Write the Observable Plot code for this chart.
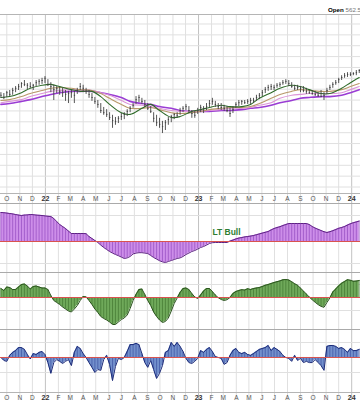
<!DOCTYPE html>
<html><head><meta charset="utf-8">
<script src="https://cdn.jsdelivr.net/npm/d3@7"></script>
<script src="https://cdn.jsdelivr.net/npm/@observablehq/plot@0.6"></script>
<style>
html,body{margin:0;padding:0;background:#fff;}
#chart{position:relative;width:360px;height:400px;overflow:hidden;font-family:"Liberation Sans",Arial,sans-serif;}
#hdr{position:absolute;top:6px;left:328px;font-size:6.2px;white-space:nowrap;line-height:8px;}
</style></head><body>
<div id="chart"><div id="hdr"><b style="color:#000">Open</b> <span style="color:#777">562.5</span></div></div>
<script>
// ---- data (weekly bars, first bar Friday 2021-09-17) ----
const firstBarDate = "2021-09-17";
const high = [442,440,445,447,452,456,461,465,470,463,
465,461,470,472,475,479,472,465,459,456,
454,452,447,445,447,445,452,463,459,452,
447,440,431,424,417,408,403,396,390,385,
387,394,396,403,410,417,433,436,429,424,
417,410,396,390,383,376,378,385,390,394,
396,406,410,415,410,401,399,406,413,410,
417,424,429,422,417,417,413,410,406,410,
419,424,424,424,426,429,429,436,440,447,
454,459,461,459,463,465,470,472,470,465,
459,459,456,456,452,447,447,445,442,447,
442,452,459,465,470,475,481,486,488,488,
488,493,495];
const low = [429,426,431,433,436,442,447,452,456,449,
452,447,456,459,461,463,456,442,424,440,
436,431,422,417,429,417,438,447,442,438,
429,422,415,406,394,390,385,378,360,367,
371,378,380,387,396,406,415,419,415,408,
401,394,373,364,360,348,355,367,373,380,
383,390,396,401,394,383,383,392,396,394,
401,408,413,408,403,401,399,396,385,394,
406,410,413,415,415,415,417,422,426,433,
440,445,447,447,452,454,459,461,456,452,
447,447,442,442,438,438,436,433,431,431,
424,438,447,452,459,463,470,475,477,479,
481,481,486];
const close = [436,431,442,438,447,452,456,463,461,459,
456,459,465,468,470,475,461,456,449,452,
445,442,438,440,442,436,447,456,452,445,
438,431,422,415,401,396,392,385,378,376,
383,387,392,399,406,413,426,431,422,415,
406,399,383,373,369,364,373,380,387,392,
390,401,406,410,401,394,390,401,408,406,
410,417,422,415,410,408,406,401,394,403,
415,419,422,419,422,424,424,431,436,442,
449,454,456,454,459,461,465,468,463,456,
452,454,452,447,445,442,440,438,436,433,
436,447,454,461,465,472,477,481,484,484,
486,488,493];

// moving averages, read at these week indices
const maWeek = [0,3,7,10,14,17,20,24,27,31,34,37,41,44,48,51,54,58,61,65,68,71,75,78,82,85,88,92,95,99,102,105,109,112,116,119,122];
const ma10 = [431,433,442,452,459,461,456,449,445,445,433,415,396,392,406,415,401,385,387,399,403,408,413,410,410,415,429,442,452,459,456,449,440,440,452,465,477];
const ma20 = [424,426,433,440,447,452,454,452,449,447,440,429,415,406,406,408,403,396,394,396,399,403,406,408,408,410,417,429,438,445,449,447,445,445,449,456,463];
const ma30 = [419,422,426,433,440,445,447,449,449,447,442,436,424,415,413,410,406,401,399,399,399,401,403,406,406,408,413,419,429,436,438,440,440,440,442,449,456];
const ma40 = [415,417,422,426,433,438,442,445,445,445,442,438,431,422,417,415,410,406,401,399,399,399,401,401,403,406,408,413,419,424,429,431,433,433,436,442,449];

// long-term trend indicator (purple)
const ltTrend = [7.25,7.2,7.1,7.0,6.9,6.75,6.6,6.5,6.6,6.65,
6.75,6.7,6.6,6.55,6.5,6.4,6.3,6.25,5.75,5.0,
4.25,3.75,3.25,2.6,2.0,2.0,2.0,2.0,2.0,1.95,
1.25,0.75,0.25,-0.25,-0.9,-1.5,-2.0,-2.5,-2.9,-3.25,
-3.55,-3.9,-4.25,-4.1,-3.75,-3.1,-2.9,-2.8,-2.8,-2.9,
-3.0,-3.5,-4.0,-4.4,-4.8,-5.1,-5.25,-5.0,-4.75,-4.5,
-4.25,-4.1,-3.75,-3.25,-2.9,-2.5,-2.25,-1.9,-1.5,-1.25,
-0.9,-0.5,-0.3,-0.25,-0.25,-0.25,-0.25,-0.25,0.1,0.35,
0.65,0.85,1.0,1.15,1.25,1.35,1.5,1.7,1.9,2.1,
2.3,2.5,2.9,3.25,3.5,3.7,4.0,4.25,4.5,4.5,
4.5,4.5,4.5,4.5,4.5,4.25,3.75,3.35,3.05,2.75,
2.45,2.25,2.45,2.7,3.0,3.3,3.5,3.75,4.1,4.45,
4.7,4.9,5.1];

// medium-term indicator (green)
const mtTrend = [4.5,3.5,5.25,5.0,4.0,4.0,5.25,6.5,6.75,5.75,
4.25,5.5,5.75,5.25,4.75,4.75,4.0,1.0,-1.5,-2.5,
-3.5,-4.75,-5.75,-6.75,-7.25,-5.75,-4.0,-1.5,0.5,0.3,
-1.5,-3.5,-5.75,-7.5,-9.5,-10.5,-11.25,-12.25,-13.5,-13.5,
-12.25,-11.0,-10.25,-8.75,-5.5,-1.5,1.5,4.0,4.25,1.5,
-1.5,-4.0,-7.25,-9.5,-11.25,-12.5,-12.0,-10.25,-6.75,-3.0,
-0.25,2.5,4.5,4.75,4.0,2.0,0.25,-0.5,1.25,3.25,
4.5,4.5,3.0,1.25,-0.1,-1.0,-1.5,-1.1,0,2.0,
3.0,3.5,3.9,3.7,4.4,4.0,4.5,4.75,5.0,5.5,
6.1,6.5,7.0,7.5,7.9,8.3,8.85,9.0,8.75,7.9,
6.9,6.1,4.7,3.25,1.75,0.2,-1.15,-2.4,-3.55,-4.45,
-4.9,-2.5,-0.25,2.75,4.25,5.85,7.1,8.0,8.9,8.6,
8.1,8.2,8.5];

// short-term indicator (blue)
const stTrend = [0,-1,-1.3,0.7,1.7,2.3,3.3,3.3,2.7,1.0,
-0.5,1.3,1.0,1.7,2.0,1.0,-1.7,-5.3,-1.7,-0.7,
-1.3,-2.0,-1.3,-0.7,-2.7,1.7,3.7,3.0,1.3,0,
-1.7,-3.3,-5.0,-4.0,-4.3,-0.7,0.7,-2.3,-7.7,-3.0,
-0.3,-0.7,0,2.0,4.3,4.3,4.7,4.3,1.3,-1.7,
-3.3,-1.0,-4.0,-7.0,-5.3,-2.7,1.7,2.3,5.0,3.7,
5.0,3.7,2.0,-0.3,-1.7,-2.0,-1.3,-0.3,2.3,1.7,
2.7,3.3,2.0,0.3,0,-0.3,-2.3,-1.7,0.7,2.3,
3.0,1.7,1.3,1.7,1.0,0.7,1.3,2.0,2.7,3.0,
3.3,4.0,2.3,3.3,2.7,2.0,0.7,0,-0.3,-1.3,
0.7,-1.0,-0.3,-1.7,-1.3,-1.7,-1.7,-0.7,-1.7,-2.7,
-4.3,3.7,4.0,4.0,3.7,3.0,3.3,2.7,1.7,3.0,
2.3,2.3,2.7];

const monthLabels = ["O","N","D","22","F","M","A","M","J","J","A","S","O","N","D","23","F","M","A","M","J","J","A","S","O","N","D","24"];
const firstMonth = "2021-10-01";
const annotation = {text: "LT Bull", date: "2023-02-03", value: 2.4};
const priceGrid = [225,250,275,300,325,350,375,400,425,450,475,500,525,550,575,600];

// ---- build ----
const W = 360;
const chart = document.getElementById("chart");
const X0 = new Date(Date.UTC(2021, 8, 16)), X1 = new Date(Date.UTC(2024, 0, 22));
const d0 = new Date(firstBarDate + "T00:00:00Z");
const weeks = high.map((_, i) => d3.utcDay.offset(d0, 7 * i));
const bars = weeks.map((date, i) => ({date, high: high[i], low: low[i], close: close[i]}));
const months = d3.utcMonth.range(new Date(firstMonth + "T00:00:00Z"), d3.utcMonth.offset(new Date(firstMonth + "T00:00:00Z"), monthLabels.length))
  .map((date, i) => ({date, label: monthLabels[i], year: monthLabels[i].length === 2}));
const yearM = months.filter(d => d.year), otherM = months.filter(d => !d.year);
const maSeries = (vals) => vals.map((v, k) => ({date: weeks[maWeek[k]], v}));
const ind = (vals) => vals.map((v, i) => ({date: weeks[i], v}));

function grid() {
  return [
    Plot.ruleX(otherM, {x: "date", stroke: "#e0e0e0", strokeWidth: 1}),
    Plot.ruleX(yearM, {x: "date", stroke: "#c2c2c2", strokeWidth: 1})
  ];
}
function panel(top, height, domain, marks) {
  const svg = Plot.plot({
    width: W, height, marginTop: 0, marginRight: 0, marginBottom: 0, marginLeft: 0,
    x: {type: "utc", domain: [X0, X1], axis: null},
    y: {domain, axis: null},
    style: {background: "transparent", fontFamily: "Liberation Sans, Arial, sans-serif", overflow: "hidden"},
    marks
  });
  Object.assign(svg.style, {position: "absolute", left: "0px", top: top + "px"});
  chart.appendChild(svg);
}
function labelStrip(top) {
  panel(top, 10, [0, 1], [
    ...grid(),
    Plot.ruleY([1], {stroke: "#b5b5b5"}),
    Plot.text(otherM, {x: "date", text: "label", frameAnchor: "middle", fontSize: 6.5, fill: "#555"}),
    Plot.text(yearM, {x: "date", text: "label", frameAnchor: "middle", fontSize: 7, fill: "#333", fontWeight: "bold"})
  ]);
}
function indicator(top, height, domain, vals, gridVals, fill, stripe, edge) {
  const data = ind(vals);
  panel(top, height, domain, [
    ...grid(),
    Plot.ruleY(gridVals, {stroke: "#e0e0e0"}),
    Plot.ruleY([domain[1]], {stroke: "#aaa"}),
    Plot.areaY(data, {x: "date", y: "v", fill, fillOpacity: 1}),
    Plot.ruleX(data, {x: "date", y1: 0, y2: "v", stroke: stripe, strokeWidth: 0.8, strokeOpacity: 0.75}),
    Plot.lineY(data, {x: "date", y: "v", stroke: edge, strokeWidth: 1}),
    Plot.ruleY([0], {stroke: "#d9534f", strokeWidth: 1})
  ]);
}

// price panel
panel(14, 179, [210.1, 621.8], [
  ...grid(),
  Plot.ruleY(priceGrid, {stroke: "#e0e0e0"}),
  Plot.ruleY([621.8], {stroke: "#b5b5b5"}),
  Plot.line(maSeries(ma40), {x: "date", y: "v", stroke: "#9a3cd4", strokeWidth: 1.6, curve: "catmull-rom"}),
  Plot.line(maSeries(ma30), {x: "date", y: "v", stroke: "#dc95d8", strokeWidth: 1.1, curve: "catmull-rom"}),
  Plot.line(maSeries(ma20), {x: "date", y: "v", stroke: "#b8986a", strokeWidth: 1.1, curve: "catmull-rom"}),
  Plot.line(maSeries(ma10), {x: "date", y: "v", stroke: "#2f6b2a", strokeWidth: 1.1, curve: "catmull-rom"}),
  Plot.ruleX(bars, {x: "date", y1: "low", y2: "high", stroke: "#444", strokeWidth: 0.9}),
  Plot.ruleY(bars, {y: "close", x1: "date", x2: d => d3.utcDay.offset(d.date, 3), stroke: "#444", strokeWidth: 1})
]);
labelStrip(193);
// purple: long-term
indicator(203, 69, [-7.75, 9.5], ltTrend, [6.5, -5.5], "#cd8ee9", "#8a3fb8", "#5e2184");
// annotation
panel(203, 69, [-7.75, 9.5], [
  Plot.text([annotation], {x: d => new Date(d.date + "T00:00:00Z"), y: "value", text: "text", textAnchor: "start", fill: "#2e7d32", fontWeight: "bold", fontSize: 8.5})
]);
// green: medium-term
indicator(272, 57, [-16, 12.5], mtTrend, [6.5, -6.5], "#6fa95a", "#3a6f2a", "#2a531d");
// blue: short-term
indicator(329, 63, [-11.67, 9.33], stTrend, [5, -5], "#7390cc", "#34489a", "#1b2a78");
labelStrip(392);
</script></body></html>
